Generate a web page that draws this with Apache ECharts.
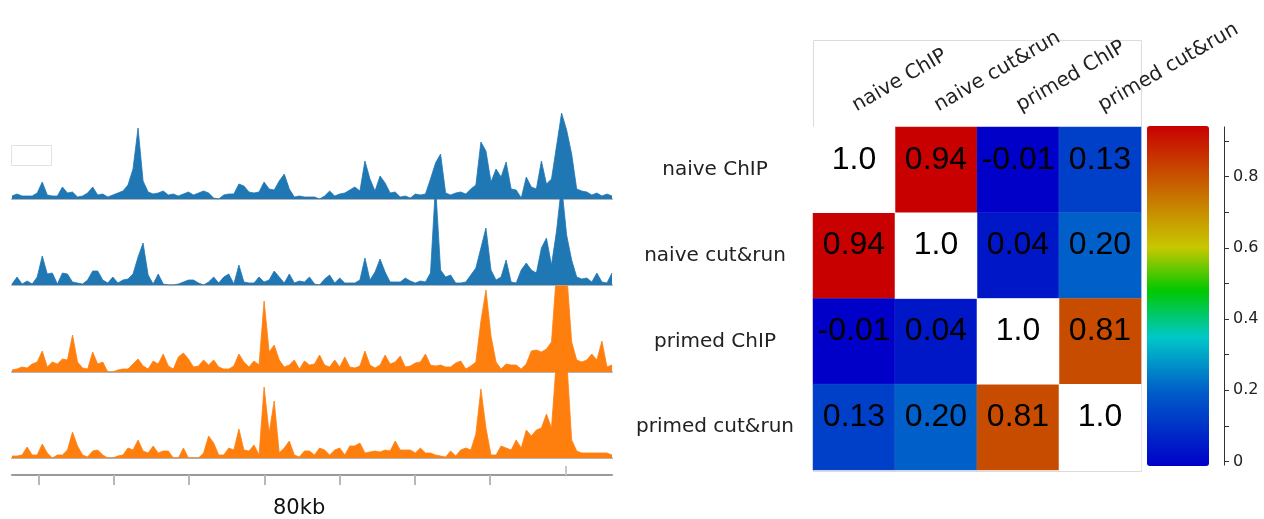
<!DOCTYPE html>
<html><head><meta charset="utf-8">
<script src="https://cdn.jsdelivr.net/npm/echarts@6/dist/echarts.min.js"></script>
<style>html,body{margin:0;padding:0;background:#fff}#c{width:1264px;height:519px}</style>
</head><body><div id="c"></div>
<script>
// ---- genome track signal (one value per bin, left to right) ----
const naiveChip = [3,5,3,3,3,6,17,4,3,3,
 12,6,7,2,3,6,12,4,5,2,
 4,6,8,14,30,71,18,7,5,6,
 8,4,5,3,5,7,4,6,8,6,
 1,0,4,5,5,15,13,7,6,7,
 17,10,9,18,25,10,2,3,2,2,
 2,0,3,8,3,5,6,9,12,8,
 38,20,8,23,16,6,7,2,3,1,
 5,4,5,20,36,45,6,4,6,7,
 5,10,14,57,48,17,30,22,37,10,
 9,1,22,12,10,38,15,20,53,86,
 69,45,10,8,7,4,6,3,5,3];
const naiveCutRun = [1,8,1,4,1,8,29,11,12,1,
 12,11,3,2,1,5,14,14,5,2,
 8,2,5,6,11,28,42,10,1,11,
 1,0,0,1,3,5,5,2,0,3,
 8,2,8,11,1,20,3,2,2,8,
 3,5,14,8,2,11,2,4,3,8,
 1,0,6,10,2,7,2,2,2,5,
 27,5,13,26,13,3,3,3,7,4,
 2,4,3,12,100,15,8,10,2,2,
 3,10,17,37,57,15,5,8,25,3,
 2,15,22,15,12,37,47,20,54,100,
 50,25,8,6,7,3,12,3,2,12];
const primedChip = [2,3,5,4,8,10,21,5,10,8,
 13,12,37,10,4,3,20,8,10,0,
 0,2,3,3,8,13,6,3,11,8,
 18,6,3,15,19,13,5,6,12,7,
 12,5,3,3,6,18,10,5,11,7,
 71,20,27,12,5,7,12,3,11,7,
 8,17,7,5,12,5,15,5,4,6,
 21,7,4,7,17,8,10,16,5,6,
 9,10,18,7,6,7,5,5,9,11,
 3,6,10,51,82,36,10,3,8,7,
 7,3,8,21,22,20,23,30,100,100,
 100,30,12,10,12,18,12,31,5,7];
const primedCutRun = [2,2,3,11,3,3,14,5,0,3,
 3,8,26,12,3,1,7,8,3,0,
 0,2,3,10,8,18,7,5,12,5,
 7,7,0,0,10,0,0,0,5,22,
 15,3,3,10,8,29,8,7,13,3,
 71,25,57,5,10,17,3,1,7,7,
 3,10,8,3,8,10,3,12,12,15,
 5,6,7,6,8,7,17,8,8,8,
 5,10,5,5,3,2,1,7,2,8,
 10,8,24,69,30,3,3,12,10,8,
 18,10,28,22,28,30,44,30,100,100,
 100,18,7,5,5,5,5,5,5,3];
const trackMax = 86;

// ---- scale bar ----
const scaleSpanKb = 79.8;
const scaleTicksKb = [3.55, 13.55, 23.55, 33.55, 43.55, 53.55, 63.55];
const scaleMarkKb = [73.6];
const scaleLabel = '80kb';

// ---- correlation heatmap ----
const samples = ['naive ChIP', 'naive cut&run', 'primed ChIP', 'primed cut&run'];
const corr = [
  [1.0, 0.94, -0.01, 0.13],
  [0.94, 1.0, 0.04, 0.20],
  [-0.01, 0.04, 1.0, 0.81],
  [0.13, 0.20, 0.81, 1.0]
];
const colorMin = -0.01, colorMax = 0.94;
const colorbarTicks = [0, 0.1, 0.2, 0.3, 0.4, 0.5, 0.6, 0.7, 0.8, 0.9];
const colorbarLabels = [0, 0.2, 0.4, 0.6, 0.8];

// ---- colour scale (style) ----
const stops = [[-0.01,[0,0,200]],[0.2,[0,95,200]],[0.35,[0,200,200]],[0.48,[0,200,0]],[0.6,[200,200,0]],[0.94,[200,0,0]]];
function colorAt(v){
  for (let i=1;i<stops.length;i++){
    if (v <= stops[i][0]) {
      const a=stops[i-1], b=stops[i];
      const f=(v-a[0])/(b[0]-a[0]);
      const c=a[1].map((x,k)=>Math.round(x+(b[1][k]-x)*f));
      return 'rgb('+c.join(',')+')';
    }
  }
  return 'rgb(200,0,0)';
}
const palette = [];
for (let i=0;i<96;i++) palette.push(colorAt(colorMin + (colorMax-colorMin)*i/95));

const bins = naiveChip.map((_, i) => i);
const tracks = [naiveChip, naiveCutRun, primedChip, primedCutRun];
const trackColors = ['#1f77b4', '#1f77b4', '#ff7f0e', '#ff7f0e'];
const trackTops = [113, 199, 286, 372];

const grids = trackTops.map(t => ({left: 12, top: t, width: 600, height: 86}));
grids.push({left: 12, top: 465, width: 600, height: 10});            // 4 scale
grids.push({left: 813, top: 127, width: 328, height: 343});          // 5 heatmap
grids.push({left: 1223, top: 126.9, width: 1, height: 338.2});       // 6 colorbar axis

const xAxes = [], yAxes = [], series = [];
tracks.forEach((d, i) => {
  xAxes.push({gridIndex: i, type: 'category', data: bins, boundaryGap: false,
    axisLine: {lineStyle: {color: '#b4b4b4', width: 2}}, axisTick: {show: false},
    axisLabel: {show: false}, splitLine: {show: false}});
  yAxes.push({gridIndex: i, type: 'value', min: 0, max: trackMax, show: false});
  series.push({type: 'line', xAxisIndex: i, yAxisIndex: i, data: d, symbol: 'none',
    lineStyle: {width: 0.8, color: trackColors[i]}, itemStyle: {color: trackColors[i]},
    areaStyle: {color: trackColors[i], opacity: 1}, silent: true, clip: true});
});
// scale axis (xAxis 4, 5)
xAxes.push({gridIndex: 4, type: 'value', min: 0, max: scaleSpanKb,
  axisLine: {onZero: false, lineStyle: {color: '#9a9a9a', width: 2}},
  axisTick: {show: true, customValues: scaleTicksKb, length: 10, lineStyle: {color: '#b8b8b8', width: 2}},
  axisLabel: {show: false}, splitLine: {show: false}});
xAxes.push({gridIndex: 4, type: 'value', min: 0, max: scaleSpanKb, position: 'bottom', offset: 3,
  axisLine: {show: false},
  axisTick: {show: true, inside: true, customValues: scaleMarkKb, length: 9, lineStyle: {color: '#c8c8c8', width: 2}},
  axisLabel: {show: false}, splitLine: {show: false}});
yAxes.push({gridIndex: 4, type: 'value', show: false});
// heatmap axes (xAxis 6, yAxis 5)
xAxes.push({gridIndex: 5, type: 'category', data: samples, position: 'top',
  axisLine: {show: false}, axisTick: {show: false}, splitLine: {show: false},
  axisLabel: {interval: 0, rotate: -30, margin: 20, fontSize: 20, fontFamily: 'DejaVu Sans', color: '#222'}});
yAxes.push({gridIndex: 5, type: 'category', data: samples, inverse: true,
  axisLine: {show: false}, axisTick: {show: false}, splitLine: {show: false},
  axisLabel: {interval: 0, align: 'center', margin: 98, fontSize: 20, fontFamily: 'DejaVu Sans', color: '#222'}});
// colorbar axis (xAxis 7, yAxis 6)
xAxes.push({gridIndex: 6, type: 'value', show: false, min: 0, max: 1});
yAxes.push({gridIndex: 6, type: 'value', min: colorMin, max: colorMax, position: 'right',
  axisLine: {show: true, onZero: false, lineStyle: {color: '#333', width: 1}},
  axisTick: {show: true, customValues: colorbarTicks, length: 5, lineStyle: {color: '#333'}},
  axisLabel: {customValues: colorbarLabels, margin: 9, fontSize: 16, fontFamily: 'DejaVu Sans', color: '#222',
    formatter: v => String(Math.round(v * 10) / 10)},
  splitLine: {show: false}});

const offDiag = [], diag = [];
corr.forEach((row, r) => row.forEach((v, c) => {
  (r === c ? diag : offDiag).push([c, r, v]);
}));
const cellLabel = {show: true, fontSize: 32, fontFamily: 'Liberation Sans', color: '#000', offset: [0, -10]};
series.push({type: 'heatmap', xAxisIndex: 6, yAxisIndex: 5, data: offDiag,
  itemStyle: {borderColor: 'rgba(255,255,255,0.12)', borderWidth: 0.6},
  label: Object.assign({}, cellLabel, {formatter: p => p.value[2].toFixed(2)}),
  emphasis: {disabled: true}, silent: true});
series.push({type: 'heatmap', xAxisIndex: 6, yAxisIndex: 5, data: diag,
  itemStyle: {color: '#fff'},
  label: Object.assign({}, cellLabel, {formatter: p => p.value[2].toFixed(1)}),
  emphasis: {disabled: true}, silent: true});

const chart = echarts.init(document.getElementById('c'), null, {renderer: 'canvas'});
chart.setOption({
  animation: false,
  backgroundColor: '#fff',
  title: {text: scaleLabel, left: 273, top: 498, padding: 0,
    textStyle: {fontSize: 21, fontWeight: 'normal', fontFamily: 'DejaVu Sans', color: '#111'}},
  grid: grids,
  xAxis: xAxes,
  yAxis: yAxes,
  visualMap: {type: 'continuous', seriesIndex: 4, min: colorMin, max: colorMax,
    left: 1147, top: 126, itemWidth: 62, itemHeight: 340, padding: 0,
    calculable: false, hoverLink: false, inRange: {color: palette}},
  graphic: [
    {type: 'rect', z: -10, shape: {x: 813.5, y: 40.5, width: 328, height: 431}, style: {fill: 'none', stroke: '#dcdcdc', lineWidth: 1}},
    {type: 'rect', z: 10, shape: {x: 11.5, y: 145.5, width: 40, height: 20}, style: {fill: '#fff', stroke: '#e2e2e2', lineWidth: 1}}
  ],
  series: series
});
</script></body></html>
